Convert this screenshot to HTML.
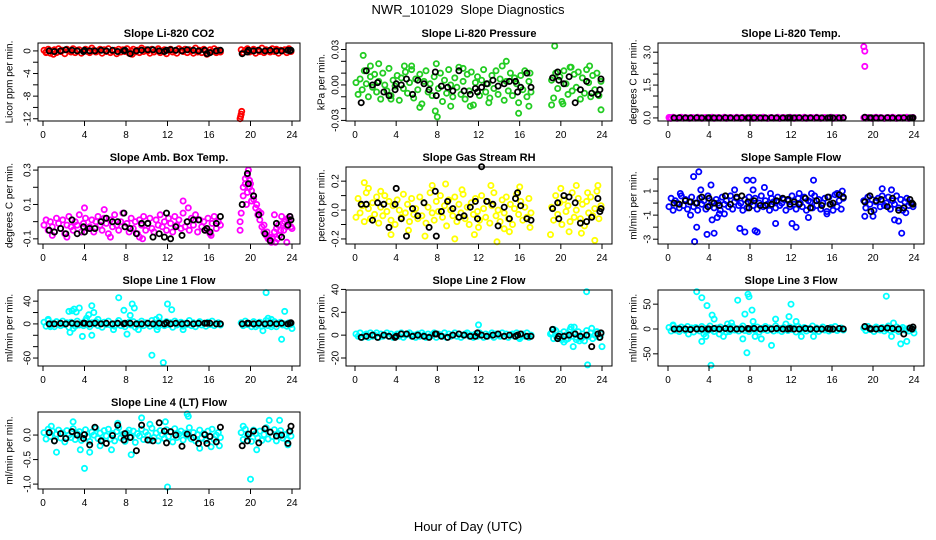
<!DOCTYPE html>
<html><head><meta charset="utf-8">
<style>
html,body{margin:0;padding:0;background:#fff;}
svg{display:block;font-family:"Liberation Sans",Arial,sans-serif;}
</style></head>
<body>
<svg id="chart" width="936" height="540" viewBox="0 0 936 540">
<text x="468" y="14" text-anchor="middle" font-size="13" xml:space="preserve">NWR_101029  Slope Diagnostics</text>
<text x="468" y="531" text-anchor="middle" font-size="13">Hour of Day (UTC)</text>
</svg>
<script>
// shared hour arrays
const hoursDay = [0.1,0.3,0.5,0.7,0.9,1.1,1.3,1.5,1.7,1.9,2.1,2.3,2.5,2.7,2.9,3.1,3.3,3.5,3.7,3.9,4.1,4.3,4.5,4.7,4.9,5.1,5.3,5.5,5.7,5.9,6.1,6.3,6.5,6.7,6.9,7.1,7.3,7.5,7.7,7.9,8.1,8.3,8.5,8.7,8.9,9.1,9.3,9.5,9.7,9.9,10.1,10.3,10.5,10.7,10.9,11.1,11.3,11.5,11.7,11.9,12.1,12.3,12.5,12.7,12.9,13.1,13.3,13.5,13.7,13.9,14.1,14.3,14.5,14.7,14.9,15.1,15.3,15.5,15.7,15.9,16.1,16.3,16.5,16.7,16.9,17.1];
const hoursEve = [19.1,19.3,19.5,19.7,19.9,20.1,20.3,20.5,20.7,20.9,21.1,21.3,21.5,21.7,21.9,22.1,22.3,22.5,22.7,22.9,23.1,23.3,23.5,23.7,23.9];
const hoursBlack = [0.6,1.1,1.7,2.2,2.8,3.3,3.9,4.0,4.5,5.0,5.6,6.1,6.7,7.2,7.8,7.9,8.4,9.0,9.5,10.1,10.6,11.2,11.7,11.9,12.3,12.8,13.4,13.9,14.5,15.0,15.6,15.8,16.1,16.7,17.1,19.2,19.7,19.8,20.3,20.8,21.4,21.9,22.5,23.0,23.6,23.8,23.9];
const xTicks = [0,4,8,12,16,20,24];

// Panel 1: CO2
const co2Day = [0.1,-0.2,0.3,-0.4,0.0,0.2,-0.3,0.4,-0.1,0.1,-0.5,0.3,0.0,-0.2,0.4,-0.3,0.1,0.2,-0.4,0.0,0.3,-0.1,-0.3,0.5,0.1,-0.2,0.0,0.3,-0.4,0.2,-0.1,0.4,-0.3,0.0,0.1,-0.5,0.3,-0.2,0.2,-0.1,0.4,-0.4,0.0,0.3,-0.2,0.1,-0.3,0.5,-0.1,0.2,0.0,-0.4,0.3,-0.2,0.1,0.4,-0.3,0.0,0.2,-0.5,0.1,0.3,-0.2,0.0,-0.4,0.4,0.1,-0.1,0.3,-0.3,0.2,0.0,-0.4,0.5,-0.2,0.1,-0.3,0.3,0.0,-0.5,0.2,-0.1,0.4,-0.3,0.1,-0.2];
const co2Eve = [0.2,-0.3,0.1,0.4,-0.2,0.0,0.3,-0.4,0.1,-0.1,0.5,-0.3,0.2,0.0,-0.2,0.4,-0.1,0.3,-0.4,0.1,0.0,0.2,-0.3,0.4,-0.1];
const co2OutX = [19.0,19.1,19.15,19.05,0.3,1.0,8.6,15.8];
const co2OutY = [-12.0,-11.2,-10.7,-11.6,-0.3,-0.6,-0.6,-0.6];
const co2Black = [0.0,-0.1,0.0,0.2,0.1,0.0,-0.1,0.1,0.0,0.0,0.1,0.0,0.1,-0.1,0.0,0.1,-0.5,0.0,0.1,0.2,0.2,0.0,-0.1,0.1,0.2,0.1,0.0,0.2,0.1,0.0,0.1,-0.5,-0.3,0.0,0.1,-0.5,-0.2,0.1,0.0,0.1,0.0,0.1,0.0,0.0,0.1,0.0,0.1];

// Panel 2: Pressure
const presDay = [0.002,-0.008,0.005,-0.004,0.012,0.001,-0.010,0.007,-0.002,0.009,-0.006,0.003,-0.012,0.010,0.000,-0.005,0.014,-0.009,0.004,-0.001,0.008,-0.013,0.006,-0.003,0.011,-0.007,0.002,0.016,-0.011,0.005,-0.004,0.009,-0.016,0.003,0.012,-0.006,0.001,-0.009,0.007,0.018,-0.003,0.010,-0.014,0.004,-0.007,0.013,0.000,-0.010,0.006,-0.002,0.015,-0.008,0.003,-0.012,0.009,-0.005,0.011,-0.017,0.002,0.007,-0.009,0.004,0.013,-0.006,0.001,-0.011,0.008,-0.003,0.012,-0.008,0.005,0.016,-0.013,0.003,-0.005,0.010,-0.009,0.006,0.001,-0.015,0.008,-0.004,0.012,-0.010,0.003,-0.006];
const presEve = [0.004,-0.011,0.010,-0.003,0.007,-0.014,0.012,0.001,-0.008,0.015,-0.005,0.009,-0.002,0.011,-0.012,0.006,-0.007,0.013,0.002,-0.010,0.008,-0.004,0.010,-0.009,0.003];
const presOutX = [0.8,19.4,8.0,7.8,15.9,23.9,14.7,6.3,11.2,2.3,4.8,21.0,22.8,16.9,19.1,9.3,1.5,3.5,10.5,13.0,5.5,20.2,17.0];
const presOutY = [0.025,0.033,-0.027,-0.022,-0.024,-0.021,0.020,-0.019,-0.018,0.018,0.016,0.015,0.016,-0.018,-0.017,-0.018,0.016,-0.012,0.014,-0.015,0.013,-0.016,0.010];
const presBlack = [-0.015,0.012,0.000,0.002,-0.006,-0.009,-0.004,0.001,0.000,0.005,-0.008,0.004,0.001,-0.004,0.011,-0.009,-0.001,-0.002,-0.005,0.012,-0.005,-0.008,-0.003,-0.006,-0.002,0.001,0.004,-0.001,0.001,0.003,0.003,-0.006,-0.002,0.010,-0.002,0.006,0.011,0.004,0.001,0.007,-0.015,-0.004,0.003,-0.007,-0.008,-0.004,0.005];

// Panel 3: Li-820 Temp
const tempDay = [0.02,-0.01,0.03,0.00,-0.02,0.01,0.03,-0.01,0.02,0.00,-0.02,0.02,0.01,-0.01,0.03,0.00,-0.02,0.01,0.02,-0.01,0.00,0.03,-0.02,0.01,0.02,-0.01,0.00,0.03,-0.02,0.01,0.02,0.00,-0.01,0.03,0.01,-0.02,0.02,0.00,0.01,-0.01,0.03,-0.02,0.00,0.02,0.01,-0.01,0.03,0.00,-0.02,0.01,0.02,-0.01,0.00,0.03,-0.02,0.01,0.02,0.00,-0.01,0.03,0.01,-0.02,0.02,0.00,0.01,-0.01,0.03,-0.02,0.00,0.02,0.01,-0.01,0.03,0.00,-0.02,0.01,0.02,-0.01,0.00,0.03,-0.02,0.01,0.02,0.00,-0.01,0.02];
const tempEve = [0.01,-0.01,0.02,0.00,-0.02,0.01,0.03,-0.01,0.02,0.00,-0.02,0.01,0.02,-0.01,0.03,0.00,-0.02,0.01,0.02,-0.01,0.00,0.03,-0.02,0.01,0.02];
const tempOutX = [19.1,19.2,19.2,0.15,0.2,0.25];
const tempOutY = [3.25,3.05,2.35,0.0,0.02,-0.02];
const tempBlack = [0.0,0.01,0.0,0.0,0.01,0.0,0.0,0.01,0.0,0.0,0.01,0.0,0.0,0.01,0.0,0.0,0.01,0.0,0.0,0.01,0.0,0.0,0.01,0.0,0.0,0.01,0.0,0.0,0.01,0.0,0.0,0.01,0.0,0.0,0.01,0.03,0.0,0.01,0.0,0.0,0.01,0.0,0.0,0.01,0.0,0.0,0.01];

// Panel 4: Amb Box Temp
const ambDay = [-0.02,0.01,-0.05,0.00,-0.03,-0.06,0.02,-0.01,-0.04,0.01,-0.07,-0.02,0.03,-0.03,-0.05,0.00,-0.02,0.04,-0.06,-0.01,0.02,-0.04,-0.03,0.01,-0.06,0.00,0.03,-0.02,-0.05,0.02,-0.01,-0.07,0.01,-0.03,0.04,-0.02,-0.05,0.00,0.05,-0.03,-0.01,-0.06,0.02,-0.04,0.00,-0.07,0.01,-0.02,0.03,-0.05,-0.01,0.02,-0.04,-0.06,0.01,-0.02,0.04,-0.03,0.00,-0.05,0.02,-0.01,-0.06,0.03,-0.02,0.01,-0.04,0.05,-0.03,0.00,-0.05,0.02,-0.02,0.04,-0.06,0.01,-0.03,0.00,-0.05,0.02,-0.07,-0.01,0.03,-0.04,0.00,-0.02];
const ambEve = [0.05,0.15,0.22,0.27,0.24,0.18,0.13,0.08,0.04,0.01,-0.03,-0.06,-0.08,-0.10,-0.11,-0.09,-0.06,-0.04,-0.02,-0.05,-0.01,0.00,-0.03,0.01,-0.03];
const ambOutX = [0.9,2.3,4.0,5.9,6.5,9.3,9.6,13.5,14.0,16.2,19.0,19.0,19.3,19.5,19.8,20.0,19.6,20.3,20.6,21.0,21.3,21.6,22.0,22.4,22.8,22.3,23.0,23.5,23.2,23.6,20.8,21.8,19.7,19.9,20.1,22.1,22.6,23.8,24.0];
const ambOutY = [-0.08,-0.09,0.08,0.07,-0.09,-0.09,-0.10,0.12,0.08,-0.08,-0.05,0.00,0.20,0.25,0.30,0.22,0.10,0.15,0.10,0.05,-0.02,-0.06,-0.12,-0.12,-0.08,0.04,0.03,-0.12,-0.05,0.02,0.06,-0.09,0.17,0.20,0.12,-0.10,-0.10,0.03,-0.04];
const ambBlack = [-0.05,-0.06,-0.04,-0.07,0.01,-0.07,-0.03,-0.06,-0.04,-0.04,0.00,0.02,0.00,0.00,0.05,-0.03,-0.04,-0.07,-0.01,-0.01,-0.09,-0.07,-0.09,0.05,-0.10,-0.03,-0.08,0.00,0.01,0.01,-0.05,-0.04,-0.06,-0.01,0.03,0.10,0.28,0.22,0.15,0.04,-0.07,-0.11,-0.01,-0.09,-0.02,0.03,0.01];

// Panel 5: Gas Stream RH
const rhDay = [-0.05,0.08,-0.02,0.03,-0.08,0.12,0.01,-0.06,0.05,-0.03,0.09,-0.09,0.02,-0.04,0.10,-0.01,0.06,-0.07,0.03,-0.10,0.07,0.00,-0.05,0.11,-0.02,0.04,-0.08,0.08,-0.03,0.01,-0.06,0.09,-0.04,0.05,-0.09,0.02,0.12,-0.02,-0.07,0.06,-0.01,0.10,-0.05,0.03,-0.11,0.07,0.00,-0.04,0.09,-0.08,0.04,-0.02,0.11,-0.06,0.02,-0.10,0.05,-0.03,0.08,-0.01,-0.07,0.10,0.01,-0.05,0.06,-0.09,0.03,0.12,-0.04,0.00,-0.08,0.07,-0.02,0.09,-0.06,0.04,-0.10,0.01,0.11,-0.03,0.06,-0.07,0.02,-0.05,0.08,-0.02];
const rhEve = [0.02,-0.07,0.10,-0.03,0.05,-0.10,0.07,-0.01,0.03,-0.08,0.12,-0.05,0.00,0.08,-0.06,0.04,-0.11,0.06,-0.02,0.09,-0.04,0.01,0.13,-0.06,0.03];
const rhOutX = [0.9,1.3,3.5,6.8,7.5,8.8,11.6,12.0,13.8,13.2,16.0,19.0,20.0,21.5,23.3,23.6,22.0,9.7,15.0,2.5,5.2,10.4,14.5,17.0,20.8,22.6];
const rhOutY = [0.19,0.15,-0.17,-0.18,0.17,0.18,-0.17,-0.12,-0.22,0.17,0.16,-0.17,0.15,0.17,-0.21,0.17,-0.16,-0.20,-0.15,0.13,-0.14,0.14,-0.13,-0.12,-0.15,0.12];
const rhBlack = [0.04,0.04,-0.07,0.05,0.04,-0.12,0.04,0.15,-0.06,-0.18,0.01,-0.04,0.05,-0.12,0.13,-0.18,-0.01,0.06,0.01,-0.05,-0.04,0.02,0.06,-0.06,0.30,0.06,0.04,-0.11,0.02,-0.06,0.08,0.12,0.03,-0.06,-0.07,0.01,0.05,-0.06,0.10,0.09,0.05,-0.09,-0.08,-0.05,0.08,-0.01,0.01];

// Panel 6: Sample Flow
const sfDay = [-0.3,0.4,-0.6,0.2,0.0,-0.4,0.6,-0.2,0.3,-0.5,0.1,0.5,-0.3,0.0,-0.6,0.4,-0.1,0.2,-0.5,0.6,-0.2,0.1,-0.4,0.3,0.0,-0.6,0.5,-0.1,0.2,-0.3,0.6,-0.5,0.1,0.4,-0.2,0.0,-0.6,0.3,-0.4,0.5,0.1,-0.2,0.4,-0.5,0.0,0.6,-0.3,0.2,-0.1,-0.6,0.4,0.1,-0.4,0.5,-0.2,0.0,0.3,-0.6,0.2,-0.3,0.6,-0.1,-0.5,0.4,0.0,-0.3,0.5,-0.6,0.2,0.1,-0.4,0.6,-0.2,0.3,-0.5,0.0,0.4,-0.7,0.5,-0.1,-0.6,0.7,-0.3,0.2,-0.5,0.4];
const sfEve = [0.2,-0.4,0.5,-0.1,0.3,-0.6,0.1,0.4,-0.3,0.6,-0.2,0.0,0.5,-0.5,0.2,-0.1,0.6,-0.4,0.3,-0.6,0.1,0.4,-0.2,0.0,-0.3];
const sfOutX = [2.6,2.5,3.0,3.2,2.8,3.8,4.2,4.5,4.3,4.8,5.0,2.2,7.0,7.5,7.7,8.3,8.5,8.7,8.3,9.4,10.5,12.1,12.5,13.7,14.2,14.0,19.2,20.0,20.9,21.8,22.1,22.5,22.8,17.0,6.5,12.8,1.2,5.5,10.0,15.5,16.5,23.2];
const sfOutY = [-3.2,2.2,2.6,1.1,-2.0,-2.6,1.5,-2.5,-1.4,-1.2,-0.9,-1.0,-2.1,-2.4,1.9,1.9,-2.3,-2.4,1.1,1.3,-1.7,-1.7,-2.0,-1.2,1.9,0.8,-1.1,-1.1,1.2,1.1,-1.4,-1.5,-2.5,1.0,1.1,0.8,0.8,-0.9,0.8,-0.9,0.8,-0.8];
const sfBlack = [0.0,-0.1,0.2,0.1,0.0,0.5,-0.3,0.4,0.0,-0.2,0.6,-0.1,0.5,0.6,0.1,-0.4,0.2,-0.2,-0.2,-0.1,0.2,0.4,0.3,-0.1,0.1,-0.1,0.4,-0.4,0.2,-0.2,0.5,-0.1,0.0,0.7,0.5,0.1,0.6,-0.7,0.2,0.3,-0.3,0.4,-0.6,-0.4,0.3,0.0,-0.1];

// Panel 7: Line 1 Flow
const l1Day = [3,-4,6,-2,1,-5,4,0,-3,5,-1,2,-6,3,0,-4,5,-2,1,-3,6,-1,-5,2,0,4,-3,1,-6,3,-1,5,-2,0,-4,2,6,-3,1,-5,0,3,-2,4,-6,1,-1,5,-3,2,0,-4,6,-2,1,-5,3,0,-3,4,-1,2,-6,5,-2,0,3,-4,1,-1,6,-3,2,-5,0,4,-2,1,-4,3,-1,5,-3,0,2,-2];
const l1Eve = [2,-3,5,-1,0,-5,4,1,-2,3,-4,0,6,-3,2,-1,4,-5,1,3,-2,0,-4,2,-1];
const l1OutX = [0.5,0.7,2.5,2.8,3.2,3.0,3.5,3.8,2.6,2.9,4.2,4.4,4.7,4.9,4.7,5.3,7.3,7.8,6.8,8.1,8.4,8.6,8.8,9.2,10.5,11.2,10.9,11.0,11.6,12.0,12.4,13.5,20.5,21.5,22.0,21.2,22.0,21.7,23.0,23.3,24.0];
const l1OutY = [8,-5,22,23,21,26,28,-22,-15,-8,10,16,32,20,-20,8,46,24,-10,-18,15,35,28,-10,-55,12,8,-10,-68,35,25,-10,-5,55,-5,-12,8,10,-27,22,-8];
const l1Black = [0,0,1,0,1,0,1,1,0,1,0,1,0,1,0,1,1,0,0,1,0,1,0,2,0,1,0,1,0,1,1,1,1,0,0,0,1,1,0,1,0,1,0,1,0,1,2];

// Panel 8: Line 2 Flow
const l2Day = [1,-1,2,-2,0,1,-2,2,-1,0,2,-2,1,-1,0,2,-1,1,-2,0,1,-1,2,-2,0,1,2,-1,0,-2,1,-1,2,0,-2,1,-1,0,2,-2,1,0,-1,2,-2,1,-1,0,2,-1,1,-2,0,1,2,-1,0,-2,1,-1,2,0,-2,1,-1,0,2,-2,1,0,-1,2,-1,1,-2,0,1,-1,2,-2,0,1,-1,2,-2,0];
const l2Eve = [2,-3,4,-2,1,-4,3,0,-3,5,-1,2,-4,3,-2,1,-5,4,-1,2,-3,0,3,-2,1];
const l2OutX = [12.0,16.0,19.3,20.5,21.0,21.3,21.2,21.8,22.0,22.5,22.6,23.0,23.5,24.0,21.5,20.3,19.0,19.6];
const l2OutY = [9,-3,5,-4,7,7,-10,-5,-3,38,-26,6,3,-10,-2,-6,1,-2];
const l2Black = [-2,-1,0,-2,0,-1,-2,-1,1,1,-1,0,-1,-2,1,1,-1,-2,0,1,0,-1,-1,2,0,-1,0,1,-1,0,-1,0,1,-1,-1,5,-3,-1,-1,0,1,-1,0,-10,1,-2,2];

// Panel 9: Line 3 Flow
const l3Day = [3,-4,6,-2,1,-5,4,0,-3,5,-1,2,-6,3,0,-4,5,-2,1,-3,6,-1,-5,2,0,4,-3,1,-6,3,-1,5,-2,0,-4,2,6,-3,1,-5,0,3,-2,4,-6,1,-1,5,-3,2,0,-4,6,-2,1,-5,3,0,-3,4,-1,2,-6,5,-2,0,3,-4,1,-1,6,-3,2,-5,0,4,-2,1,-4,3,-1,5,-3,0,2,-2];
const l3Eve = [2,-3,5,-1,0,-5,4,1,-2,3,-4,0,6,-3,2,-1,4,-5,1,3,-2,0,-4,2,-1];
const l3OutX = [2.8,3.3,3.8,4.2,4.3,4.5,3.5,3.3,3.7,2.0,5.0,5.4,5.8,6.2,6.0,6.8,7.5,7.8,7.9,7.3,8.2,8.3,7.7,8.5,9.1,10.1,10.5,11.5,11.8,12.0,12.5,13.0,14.2,21.3,21.8,22.0,22.7,23.3,24.0,0.5];
const l3OutY = [75,63,47,-73,28,20,-10,-25,-15,-10,-10,-15,10,12,-5,58,30,70,65,-20,38,15,-48,-15,-20,-33,20,10,25,50,15,-15,-15,66,-15,12,-30,-25,-8,8];
const l3Black = [0,0,0,-1,0,0,0,0,1,0,1,0,0,0,1,0,1,0,1,0,1,0,0,1,0,0,1,0,0,0,1,0,0,1,0,5,1,0,0,1,2,1,0,-10,2,0,4];

// Panel 10: Line 4 (LT) Flow
const l4Day = [0.05,-0.08,0.12,-0.03,0.08,-0.12,0.02,0.10,-0.06,0.04,-0.14,0.09,0.00,-0.05,0.13,-0.09,0.03,0.07,-0.11,0.01,0.11,-0.04,-0.13,0.06,0.00,0.14,-0.07,0.04,-0.10,0.09,-0.02,0.12,-0.08,0.03,-0.12,0.07,0.15,-0.06,0.02,-0.13,0.05,0.10,-0.04,0.08,-0.15,0.03,-0.02,0.12,-0.09,0.06,0.00,-0.11,0.14,-0.05,0.04,-0.12,0.09,0.01,-0.07,0.11,-0.03,0.06,-0.14,0.13,-0.05,0.02,0.08,-0.10,0.04,-0.02,0.15,-0.08,0.05,-0.12,0.01,0.10,-0.06,0.03,-0.11,0.08,-0.03,0.12,-0.09,0.00,0.05,-0.05];
const l4Eve = [0.05,-0.09,0.12,-0.03,0.02,-0.13,0.10,0.03,-0.06,0.08,-0.11,0.01,0.15,-0.08,0.06,-0.03,0.11,-0.12,0.03,0.09,-0.06,0.01,-0.10,0.06,-0.02];
const l4OutX = [1.3,4.0,12.0,20.0,8.5,9.5,13.9,14.0,22.8,3.6,6.6,4.5,11.8,2.9,21.8,20.6,23.6,17.0,15.1,0.8,5.5,10.3,16.2,19.3,7.2];
const l4OutY = [-0.35,-0.68,-1.06,-0.90,-0.40,0.35,0.43,0.38,0.30,-0.30,-0.30,-0.35,0.27,0.27,0.30,-0.30,-0.20,-0.22,-0.27,0.18,-0.22,0.22,-0.24,0.18,0.24];
const l4Black = [0.05,-0.12,0.03,-0.07,0.07,0.00,-0.07,0.01,-0.20,0.16,-0.12,-0.17,-0.01,0.20,-0.10,0.03,-0.05,-0.32,0.20,-0.10,-0.12,0.25,0.08,-0.16,0.07,0.00,-0.23,0.02,-0.05,-0.17,0.01,-0.17,-0.03,-0.14,0.16,-0.22,-0.12,0.02,0.08,-0.16,0.13,0.06,-0.02,0.00,-0.17,0.08,0.18];

// y-axis tick values and labels
const co2Ticks = [0,-2,-4,-6,-8,-10,-12]; const co2Labels = ["0","","-4","","-8","","-12"];
const presTicks = [0.03,0.02,0.01,0,-0.01,-0.02,-0.03]; const presLabels = ["0.03","","","0.00","","","-0.03"];
const tempTicks = [0,0.5,1,1.5,2,2.5,3]; const tempLabels = ["0.0","","","1.5","","","3.0"];
const ambTicks = [0.3,0.2,0.1,0,-0.1]; const ambLabels = ["0.3","","0.1","","-0.1"];
const rhTicks = [0.2,0.1,0,-0.1,-0.2]; const rhLabels = ["0.2","","0.0","","-0.2"];
const sfTicks = [2,1,0,-1,-2,-3]; const sfLabels = ["","1","","-1","","-3"];
const l1Ticks = [40,20,0,-20,-40,-60]; const l1Labels = ["40","","0","","","-60"];
const l2Ticks = [40,20,0,-20]; const l2Labels = ["40","20","0","-20"];
const l3Ticks = [50,0,-50]; const l3Labels = ["50","0","-50"];
const l4Ticks = [0,-0.5,-1]; const l4Labels = ["0.0","-0.5","-1.0"];

const NS = "http://www.w3.org/2000/svg";
const svg = document.getElementById('chart');
const cols = [{bl:38,br:300,x0:43,x24:292,yt:10},{bl:346,br:612,x0:355,x24:602,yt:322},{bl:658,br:924,x0:668,x24:914,yt:634}];
const rows = [{t:43,b:121},{t:167,b:244},{t:290,b:366},{t:412,b:489}];

const panels = [
 {key:'co2',title:'Slope Li-820 CO2',yl:'Licor ppm per min.',c:0,r:0,ymax:1.4,ymin:-12.4,color:'#ff0000',day:co2Day,eve:co2Eve,ox:co2OutX,oy:co2OutY,blk:co2Black,ticks:co2Ticks,labels:co2Labels},
 {key:'pressure',title:'Slope Li-820 Pressure',yl:'kPa per min.',c:1,r:0,ymax:0.0355,ymin:-0.0305,color:'#22cc22',day:presDay,eve:presEve,ox:presOutX,oy:presOutY,blk:presBlack,ticks:presTicks,labels:presLabels},
 {key:'licor-temp',title:'Slope Li-820 Temp.',yl:'degrees C per min.',c:2,r:0,ymax:3.42,ymin:-0.14,color:'#ff00ff',day:tempDay,eve:tempEve,ox:tempOutX,oy:tempOutY,blk:tempBlack,ticks:tempTicks,labels:tempLabels},
 {key:'amb-temp',title:'Slope Amb. Box Temp.',yl:'degrees C per min.',c:0,r:1,ymax:0.318,ymin:-0.13,color:'#ff00ff',day:ambDay,eve:ambEve,ox:ambOutX,oy:ambOutY,blk:ambBlack,ticks:ambTicks,labels:ambLabels},
 {key:'rh',title:'Slope Gas Stream RH',yl:'percent per min.',c:1,r:1,ymax:0.298,ymin:-0.235,color:'#ffff00',day:rhDay,eve:rhEve,ox:rhOutX,oy:rhOutY,blk:rhBlack,ticks:rhTicks,labels:rhLabels},
 {key:'sample-flow',title:'Slope Sample Flow',yl:'ml/min per min.',c:2,r:1,ymax:3.0,ymin:-3.4,color:'#0000ff',day:sfDay,eve:sfEve,ox:sfOutX,oy:sfOutY,blk:sfBlack,ticks:sfTicks,labels:sfLabels},
 {key:'line1',title:'Slope Line 1 Flow',yl:'ml/min per min.',c:0,r:2,ymax:59.6,ymin:-74,color:'#00ffff',day:l1Day,eve:l1Eve,ox:l1OutX,oy:l1OutY,blk:l1Black,ticks:l1Ticks,labels:l1Labels},
 {key:'line2',title:'Slope Line 2 Flow',yl:'ml/min per min.',c:1,r:2,ymax:39.5,ymin:-27,color:'#00ffff',day:l2Day,eve:l2Eve,ox:l2OutX,oy:l2OutY,blk:l2Black,ticks:l2Ticks,labels:l2Labels},
 {key:'line3',title:'Slope Line 3 Flow',yl:'ml/min per min.',c:2,r:2,ymax:78.5,ymin:-74.5,color:'#00ffff',day:l3Day,eve:l3Eve,ox:l3OutX,oy:l3OutY,blk:l3Black,ticks:l3Ticks,labels:l3Labels},
 {key:'line4',title:'Slope Line 4 (LT) Flow',yl:'ml/min per min.',c:0,r:3,ymax:0.47,ymin:-1.1,color:'#00ffff',day:l4Day,eve:l4Eve,ox:l4OutX,oy:l4OutY,blk:l4Black,ticks:l4Ticks,labels:l4Labels}
];

function mk(tag, attrs, parent){
  const e = document.createElementNS(NS, tag);
  for (const k in attrs) e.setAttribute(k, attrs[k]);
  parent.appendChild(e);
  return e;
}

panels.forEach(p => {
  const col = cols[p.c], row = rows[p.r];
  const xs = h => col.x0 + (h/24)*(col.x24-col.x0);
  const ys = v => row.t + (p.ymax - v)/(p.ymax - p.ymin)*(row.b-row.t);
  const g = mk('g', {}, svg);
  
  

  const title = mk('text', {x:(col.bl+col.br)/2, y:row.t-6, 'text-anchor':'middle', 'font-size':'11', 'font-weight':'bold'}, g);
  title.textContent = p.title;
  
  

  const yt = mk('text', {x:col.yt, y:(row.t+row.b)/2, 'text-anchor':'middle', 'font-size':'10', transform:`rotate(-90 ${col.yt} ${(row.t+row.b)/2})`, 'dominant-baseline':'middle'}, g);
  yt.textContent = p.yl;
  
  

  // points
  const pts = mk('g', {fill:'none', 'stroke-width':'1.8'}, g);
  
  
  const dot = (h, v, color) => {
    const c = mk('circle', {cx:xs(h).toFixed(1), cy:ys(v).toFixed(1), r:'2.6', stroke:color}, pts);
    
    
  };
  for (let i=0;i<Math.min(p.day.length,hoursDay.length);i++) dot(hoursDay[i], p.day[i], p.color);
  for (let i=0;i<Math.min(p.eve.length,hoursEve.length);i++) dot(hoursEve[i], p.eve[i], p.color);
  for (let i=0;i<Math.min(p.ox.length,p.oy.length);i++) dot(p.ox[i], p.oy[i], p.color);
  for (let i=0;i<Math.min(p.blk.length,hoursBlack.length);i++) dot(hoursBlack[i], p.blk[i], '#000000');

  // box
  const box = mk('rect', {x:col.bl, y:row.t, width:col.br-col.bl, height:row.b-row.t, fill:'none', stroke:'#000', 'stroke-width':'1'}, g);
  
  

  // x axis
  const xa = mk('g', {stroke:'#000', 'stroke-width':'1'}, g);
  
  
  xTicks.forEach(t => {
    const x = xs(t);
    mk('line', {x1:x, x2:x, y1:row.b, y2:row.b+5}, xa);
    const lb = mk('text', {x:x, y:row.b+17, 'text-anchor':'middle', 'font-size':'10', stroke:'none', fill:'#000'}, xa);
    lb.textContent = String(t);
    
    
  });

  // y axis
  const ya = mk('g', {stroke:'#000', 'stroke-width':'1'}, g);
  
  
  p.ticks.forEach((t, i) => {
    const y = ys(t);
    mk('line', {x1:col.bl-5, x2:col.bl, y1:y, y2:y}, ya);
    if (p.labels[i]) {
      const lx = col.bl - 10;
      const lb = mk('text', {x:lx, y:y, 'text-anchor':'middle', 'font-size':'10', stroke:'none', fill:'#000', transform:`rotate(-90 ${lx} ${y})`, 'dominant-baseline':'middle'}, ya);
      lb.textContent = p.labels[i];
      
      
    }
  });
});
</script>
</body></html>
